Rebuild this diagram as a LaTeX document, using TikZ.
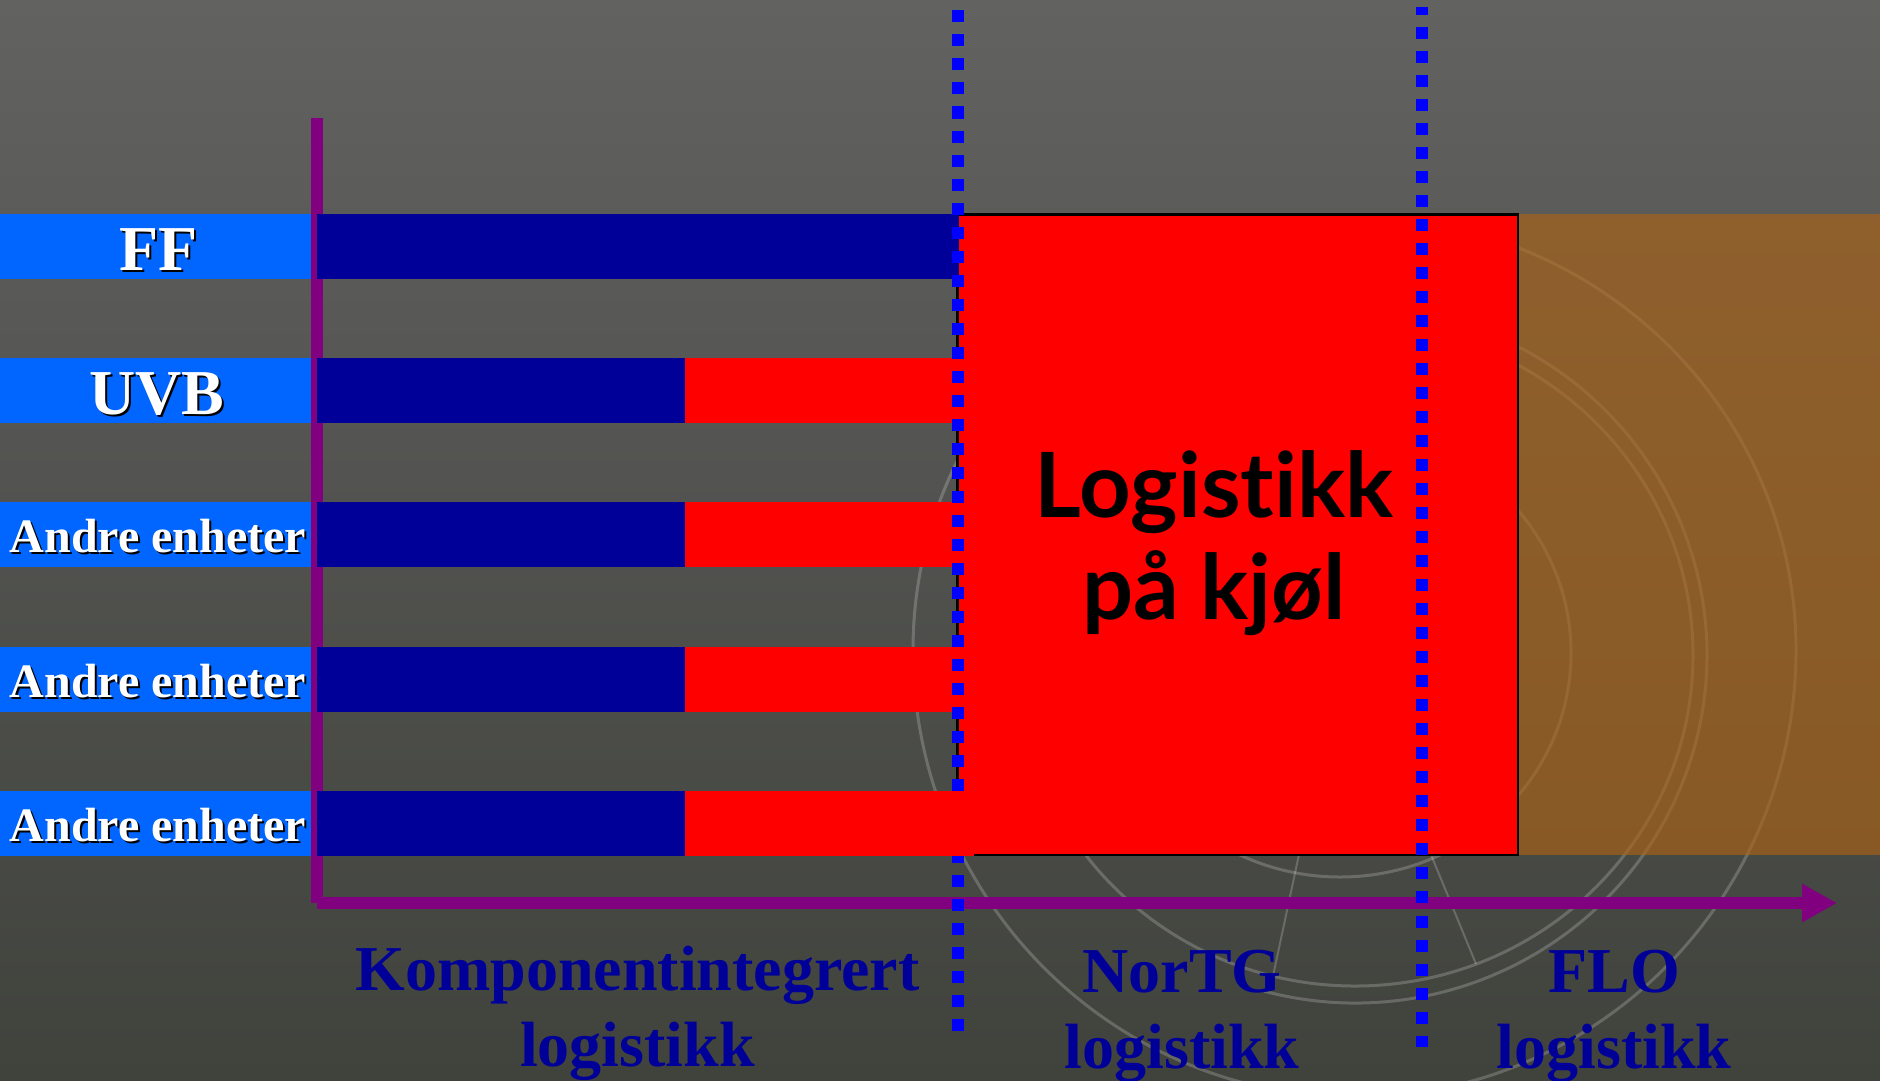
\documentclass[tikz,border=0pt]{standalone}
\usepackage{fontspec}
\setmainfont{Liberation Serif}
\newfontfamily\handfont[Ligatures=NoCommon]{Lato}
\usetikzlibrary{arrows.meta}
\definecolor{bgtop}{HTML}{626261}
\definecolor{bgmid}{HTML}{525350}
\definecolor{bgbot}{HTML}{40423C}
\definecolor{lblue}{HTML}{0066FF}
\definecolor{dblue}{HTML}{000099}
\definecolor{axis}{HTML}{800080}
\definecolor{dots}{HTML}{0000FF}
\definecolor{ochre}{RGB}{171,99,21}
\tikzset{
  ring/.style={draw=white,draw opacity=.2,line width=1.5bp},
  axisline/.style={draw=axis,line width=6bp,line cap=butt},
  dotline/.style={draw=dots,line width=6bp,dash pattern=on 6.005bp off 6.005bp},
  biglabel/.style={font=\fontsize{32.1}{32}\selectfont\bfseries,anchor=base,inner sep=0pt},
  unitlabel/.style={font=\fontsize{24.1}{24}\selectfont\bfseries,anchor=base,inner sep=0pt},
  zonelabel/.style={font=\fontsize{32.1}{38.1}\selectfont\bfseries,text=dblue,align=center,anchor=center,inner sep=0pt},
  handlabel/.style={font=\fontsize{45.2}{51.2}\selectfont\handfont\bfseries,text=black,align=center,anchor=center,inner sep=0pt},
}
\begin{document}
\begin{tikzpicture}[x=0.5bp,y=-0.5bp]
\useasboundingbox (0,0) rectangle (1880,1080);
\shade[top color=bgtop,middle color=bgmid,bottom color=bgbot] (0,0) rectangle (1880,1080);
% watermark wheel
\draw[ring] (913,650) arc[start angle=180,end angle=360,x radius=441.5,y radius=433];
\draw[ring] (1796,650) arc[start angle=0,end angle=180,x radius=441.5,y radius=447];
\draw[ring] (1355,655) ellipse[x radius=338,y radius=331];
\draw[ring] (1263.9,991.1) arc[start angle=105,end angle=-100,x radius=352,y radius=348];
\draw[ring] (1340,653) ellipse[x radius=231,y radius=224];
\coordinate (spa) at (1301,845); \coordinate (spb) at (1273,976);
\coordinate (spc) at (1427,845); \coordinate (spd) at (1476,964);
\draw[ring,line width=1bp] (spa) -- (spb);
\draw[ring,line width=1bp] (spc) -- (spd);
% zones
\fill[ochre,fill opacity=.65] (1518,214) rectangle (1880,855);
\draw[black,line width=1.1bp,fill=red] (957.5,214.5) rectangle (1518,855);
% unit label bars
\foreach \y in {214,357.7,501.7,646.7,791}{
  \fill[lblue] (0,\y) rectangle (311,\y+65);
}
% axes
\coordinate (vtop) at (317,118); \coordinate (vbot) at (317,903);
\coordinate (hleft) at (317,903); \coordinate (htip) at (1837,903);
\draw[axisline] (vtop) -- (vbot);
\draw[axisline,-{Triangle[length=17.5bp,width=18bp]}] (hleft) -- (htip);
% bars
\fill[dblue] (317,214) rectangle (958.5,279);
\foreach \y in {357.7,501.7,646.7,791}{
  \fill[dblue] (317,\y) rectangle (685,\y+65);
}
\foreach \y in {357.7,501.7,646.7}{
  \fill[red] (685,\y) rectangle (958.5,\y+65);
}
% dotted limits
\coordinate (la) at (957.7,10.4); \coordinate (lb) at (957.7,1031);
\coordinate (lc) at (1421.7,6.5); \coordinate (ld) at (1421.7,1047);
\draw[dotline] (la) -- (lb);
\draw[dotline,dash phase=1.9bp] (lc) -- (ld);
\fill[red] (685,791) rectangle (974,856);
% labels
\node[biglabel,text=black] (ffs) at (160.5,272.5) {FF};
\node[biglabel,text=white] (ff) at (158.5,270.5) {FF};
\node[biglabel,text=black] (uvbs) at (159,416) {UVB};
\node[biglabel,text=white] (uvb) at (157,414) {UVB};
\node[unitlabel,text=black] (as1) at (160,554) {Andre enheter};
\node[unitlabel,text=white] (a1) at (158,552) {Andre enheter};
\node[unitlabel,text=black] (as2) at (160,699) {Andre enheter};
\node[unitlabel,text=white] (a2) at (158,697) {Andre enheter};
\node[unitlabel,text=black] (as3) at (160,843) {Andre enheter};
\node[unitlabel,text=white] (a3) at (158,841) {Andre enheter};
\node[handlabel] (lk) at (1214,543) {Logistikk\\på kjøl};
\node[zonelabel] (komp) at (637.5,1013.5) {Komponentintegrert\\logistikk};
\node[zonelabel] (nor) at (1182,1016.5) {NorTG\\logistikk};
\node[zonelabel] (flo) at (1614,1016.5) {FLO\\logistikk};
\end{tikzpicture}
\end{document}
